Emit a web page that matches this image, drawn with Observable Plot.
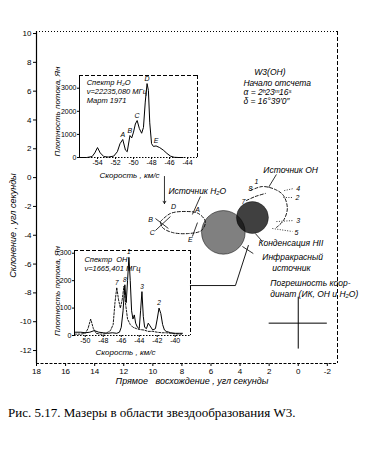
<!DOCTYPE html>
<html><head><meta charset="utf-8">
<script src="https://cdn.jsdelivr.net/npm/d3@7"></script>
<script src="https://cdn.jsdelivr.net/npm/@observablehq/plot@0.6"></script>
<style>
body{margin:0;background:#fff}
#wrap{position:relative;width:376px;height:458px;overflow:hidden;background:#fff}
#wrap > div{position:absolute}
#cap{left:8px;top:405px;font:13px "Liberation Serif",serif;color:#000;white-space:nowrap;line-height:16px}
</style></head><body>
<div id="wrap">
<div id="main" style="left:0;top:0"></div>
<div id="h2o" style="left:40px;top:60px"></div>
<div id="oh" style="left:40px;top:235px"></div>
<div id="cap">Рис. 5.17. Мазеры в области звездообразования W3.</div>
</div>
<script>
// ---------------- data ----------------
const raTicks = [18,16,14,12,10,8,6,4,2,0,-2];
const decTicks = [10,8,6,4,2,0,-2,-4,-6,-8,-10,-12];
const raDomain = [18,-2.7];
const decDomain = [-12.9,10.14];
const xTitle = "Прямое   восхождение , угл секунды";
const yTitle = "Склонение , угл секунды";

// H2O spectrum (upper inset)
const h2oVelDomain = [-56,-42.9];
const h2oFluxDomain = [0,3550];
const h2oVelTicks = [-54,-52,-50,-48,-46,-44];
const h2oFluxTicks = [0,1000,2000,3000];
const h2oVel  = [-56,-55.2,-54.6,-54.3,-54.0,-53.7,-53.3,-52.8,-52.2,-51.8,-51.5,-51.2,-50.9,-50.7,-50.4,-50.2,-50.0,-49.8,-49.6,-49.35,-49.1,-48.9,-48.7,-48.5,-48.35,-48.2,-48.0,-47.8,-47.5,-47.1,-46.7,-46.3,-45.9,-45.5,-45,-44.5];
const h2oFlux = [0,0,40,200,430,200,40,20,60,250,600,780,320,250,950,850,1100,1450,1600,1250,1050,1300,2400,3200,2900,1500,600,480,500,430,320,180,60,10,0,0];
const h2oPeakNames = ["A","B","C","D","E"];
const h2oPeakVel  = [-51.2,-50.4,-49.6,-48.5,-47.5];
const h2oPeakFlux = [780,950,1600,3200,500];
const h2oInfo = "Спектр H₂O\nν=22235,080 МГц\nМарт 1971";

// OH spectrum (lower inset)
const ohVelDomain = [-51.2,-38.3];
const ohFluxDomain = [0,310];
const ohVelTicks = [-50,-48,-46,-44,-42,-40];
const ohFluxTicks = [0,100,200,300];
const ohVelS  = [-51.2,-50.5,-50,-49.5,-49,-48.5,-48,-47.5,-47,-46.5,-46.2,-46,-45.8,-45.6,-45.45,-45.3,-45.15,-45,-44.85,-44.7,-44.55,-44.4,-44.2,-44,-43.85,-43.7,-43.55,-43.4,-43.2,-43,-42.8,-42.5,-42.2,-42,-41.8,-41.6,-41.4,-41.2,-41,-40.5,-40,-39.5,-39.2];
const ohFluxS = [12,12,10,12,18,12,10,8,10,8,12,30,90,185,120,200,285,200,90,60,75,45,30,25,90,160,70,30,25,45,35,20,25,60,100,80,40,20,15,10,8,8,8];
const ohVelD  = [-51.2,-50.5,-50,-49.7,-49.4,-49.1,-48.8,-48.3,-47.8,-47.5,-47.2,-46.9,-46.7,-46.5,-46.3,-46.1,-45.9,-45.7,-45.5,-45.3,-45,-44.7,-44.3,-44,-43.5,-43,-42.5,-42,-41.5,-41,-40.5,-40,-39.5,-39.2];
const ohFluxD = [5,5,8,25,60,25,8,5,6,12,18,40,120,175,130,100,130,180,110,60,40,30,25,22,20,15,15,12,10,10,8,6,5,5];
const ohPeakNames = ["7","8","1","3","2"];
const ohPeakVel  = [-46.5,-45.6,-45.15,-43.7,-41.8];
const ohPeakFlux = [175,185,285,160,100];
const ohInfo = "Спектр  OH\nν=1665,401 МГц";

const fluxTitle = "Плотность потока, Ян";
const velTitle = "Скорость , км/с";

// Sources on the sky (arc seconds from origin)
const irSource  = {x:5.15, y:-3.8,  radius:1.5};
const hiiSource = {x:3.15, y:-2.77, radius:1.1};
const errorCross = {x:0, y:-10.1, ex:2, ey:1.8};

const h2oSpotNames = ["A","D","B","C","E"];
const h2oSpotX = [6.93,8.58,10.16,10.03,7.42];
const h2oSpotY = [-2.21,-2.0,-2.91,-3.81,-4.30];
const ohSpotNames = ["1","4","8","2","7","3","5"];
const ohSpotX = [2.88,0.0,3.29,0.06,3.77,0.0,0.13];
const ohSpotY = [-0.27,-0.76,-0.76,-1.38,-1.66,-2.98,-3.81];

const h2oLoop = [[9.48,-3.05],[8.79,-2.49],[7.76,-2.35],[6.87,-2.49],[6.39,-3.05],[6.66,-3.67],[7.55,-3.88],[8.65,-3.81],[9.34,-3.46],[9.48,-3.05]];
const ohArc  = [[3.29,-0.90],[2.47,-0.62],[1.57,-0.83],[1.02,-1.24],[0.75,-2.14],[1.02,-2.98],[1.50,-3.46]];
const ohArc2 = [[3.57,-1.59],[2.95,-1.31],[2.26,-1.10]];
const solidLeaders = [
  [6.73,-1.31,7.28,-2.56],
  [9.82,-2.84,8.93,-3.53],
  [9.82,-3.67,8.79,-2.70],
  [7.28,-4.09,6.93,-3.12],
  [1.50,0.22,2.05,-0.69],
  [2.47,-4.43,2.95,-3.88],
  [3.09,-5.27,3.84,-4.78]
];
const dottedLeaders = [
  [0.96,-0.90,0.34,-0.76],
  [1.02,-1.38,0.40,-1.38],
  [1.50,-3.05,0.34,-2.98],
  [1.78,-3.53,0.40,-3.74]
];
const h2oArrow = [9.20,0.08,9.20,-1.80];
const ohInsetLink = [[7.42,-7.49],[4.32,-7.49],[3.43,-4.71]];

const noteText = ["W3(OH)","Начало отсчета","α = 2ʰ23ᵐ16ˢ","δ = 16°39′0″","Источник OH","Источник H₂O","Конденсация HII","Инфракрасный","источник","Погрешность коор-","динат (ИК, OH и H₂O)"];
const noteX = [3.02,3.77,3.77,3.77,2.40,8.93,2.74,2.47,1.78,1.92,1.92];
const noteY = [7.29,6.53,5.91,5.28,0.49,-0.96,-4.57,-5.54,-6.31,-7.35,-8.11];

// ---------------- drawing ----------------
const fmt = d => String(d);
const FONT = "Liberation Sans, DejaVu Sans, sans-serif";
const W = 376, H = 395, ML = 36, MR = 39, MT = 31, MB = 32;
const pxPerArcsec = (W - ML - MR) / (raDomain[0] - raDomain[1]);
const pairs = (a, b) => a.map((v, i) => [v, b[i]]);

const main = Plot.plot({
  width: W, height: H, marginLeft: ML, marginRight: MR, marginTop: MT, marginBottom: MB,
  x: {domain: raDomain},
  y: {domain: decDomain},
  style: {fontFamily: FONT, fontSize: "8px", background: "none", color: "#000"},
  marks: [
    Plot.ruleX([raDomain[0]], {y1: decDomain[0], y2: decDomain[1], strokeWidth: 1.2}),
    Plot.ruleY([decDomain[0]], {strokeDasharray: "3,1.5"}),
    Plot.ruleY([decDomain[1]], {strokeDasharray: "1,2"}),
    Plot.ruleX([raDomain[1]], {strokeDasharray: "4,2"}),
    Plot.axisY({ticks: decTicks, tickFormat: fmt, tickSize: 3, tickPadding: 2, label: null}),
    Plot.axisX({ticks: raTicks, tickFormat: fmt, tickSize: 3, tickPadding: 2, label: null}),
    Plot.text([yTitle], {text: d => d, frameAnchor: "left", textAnchor: "middle", dx: -23, dy: 28, rotate: -90, fontStyle: "italic", fontSize: 9}),
    Plot.text([xTitle], {text: d => d, frameAnchor: "bottom", textAnchor: "middle", dx: 5, dy: 20, fontStyle: "italic", fontSize: 9}),
    // sources
    Plot.dot([irSource], {x: "x", y: "y", r: irSource.radius * pxPerArcsec, fill: "url(#vhatch)", stroke: "#000", strokeWidth: 0.5}),
    Plot.dot([hiiSource], {x: "x", y: "y", r: hiiSource.radius * pxPerArcsec, fill: "url(#dense)", stroke: "#000", strokeWidth: 0.4}),
    // maser spots
    Plot.line(h2oLoop, {curve: "catmull-rom", strokeDasharray: "3,2", strokeWidth: 0.9}),
    Plot.line(ohArc, {curve: "catmull-rom", strokeDasharray: "3,2", strokeWidth: 0.9}),
    Plot.line(ohArc2, {curve: "catmull-rom", strokeDasharray: "3,2", strokeWidth: 0.9}),
    Plot.link(solidLeaders, {x1: d => d[0], y1: d => d[1], x2: d => d[2], y2: d => d[3], strokeWidth: 0.8}),
    Plot.link(dottedLeaders, {x1: d => d[0], y1: d => d[1], x2: d => d[2], y2: d => d[3], strokeWidth: 0.8, strokeDasharray: "1,1.5"}),
    Plot.arrow([h2oArrow], {x1: d => d[0], y1: d => d[1], x2: d => d[2], y2: d => d[3], headLength: 5, strokeWidth: 0.8}),
    Plot.line(ohInsetLink, {strokeWidth: 0.9}),
    Plot.text(h2oSpotNames, {text: d => d, x: (d, i) => h2oSpotX[i], y: (d, i) => h2oSpotY[i], fontSize: 7, fontStyle: "italic"}),
    Plot.text(ohSpotNames, {text: d => d, x: (d, i) => ohSpotX[i], y: (d, i) => ohSpotY[i], fontSize: 7, fontStyle: "italic"}),
    // error cross
    Plot.ruleX([errorCross], {x: "x", y1: d => d.y - d.ey, y2: d => d.y + d.ey, strokeWidth: 1}),
    Plot.ruleY([errorCross], {y: "y", x1: d => d.x + d.ex, x2: d => d.x - d.ex, strokeWidth: 1}),
    // notes
    Plot.text(noteText, {text: d => d, x: (d, i) => noteX[i], y: (d, i) => noteY[i], textAnchor: "start", fontStyle: "italic", fontSize: 8.5})
  ]
});
const defs = d3.select(main).insert("defs", ":first-child");
const vh = defs.append("pattern").attr("id", "vhatch").attr("patternUnits", "userSpaceOnUse").attr("width", 2).attr("height", 2);
vh.append("rect").attr("width", 2).attr("height", 2).attr("fill", "#fff");
vh.append("rect").attr("width", 1).attr("height", 2).attr("fill", "#000");
const dn = defs.append("pattern").attr("id", "dense").attr("patternUnits", "userSpaceOnUse").attr("width", 2).attr("height", 2);
dn.append("rect").attr("x", 0).attr("y", 0).attr("width", 2).attr("height", 1).attr("fill", "#000");
dn.append("rect").attr("x", 0).attr("y", 1).attr("width", 1).attr("height", 1).attr("fill", "#000");
document.getElementById("main").appendChild(main);

// upper inset: H2O spectrum
const h2oPlot = Plot.plot({
  width: 170, height: 120, marginLeft: 39, marginRight: 13, marginTop: 15, marginBottom: 23,
  x: {domain: h2oVelDomain}, y: {domain: h2oFluxDomain},
  style: {fontFamily: FONT, fontSize: "7px", background: "none", overflow: "visible"},
  marks: [
    Plot.ruleX([h2oVelDomain[0]], {strokeWidth: 1}),
    Plot.ruleX([h2oVelDomain[1]], {strokeDasharray: "4,2"}),
    Plot.ruleY([h2oFluxDomain[1]], {strokeDasharray: "4,2"}),
    Plot.ruleY([h2oFluxDomain[0]], {strokeDasharray: "1.5,1.5"}),
    Plot.axisY({ticks: h2oFluxTicks, tickFormat: fmt, tickSize: 2, tickPadding: 1, label: null}),
    Plot.axisX({ticks: h2oVelTicks, tickFormat: fmt, tickSize: 2, tickPadding: 1, label: null}),
    Plot.line(pairs(h2oVel, h2oFlux), {strokeWidth: 1}),
    Plot.text(h2oPeakNames, {text: d => d, x: (d, i) => h2oPeakVel[i], y: (d, i) => h2oPeakFlux[i], dy: -5, fontSize: 7, fontStyle: "italic"}),
    Plot.text([h2oInfo], {text: d => d, x: -55.2, y: 3420, textAnchor: "start", lineAnchor: "top", lineHeight: 1.2, fontSize: 7.5, fontStyle: "italic"}),
    Plot.text([fluxTitle], {text: d => d, frameAnchor: "left", textAnchor: "middle", dx: -22, dy: -5, rotate: -90, fontStyle: "italic", fontSize: 8}),
    Plot.text([velTitle], {text: d => d, frameAnchor: "bottom", textAnchor: "middle", dx: -9, dy: 20, fontStyle: "italic", fontSize: 8})
  ]
});
document.getElementById("h2o").appendChild(h2oPlot);

// lower inset: OH spectrum
const ohPlot = Plot.plot({
  width: 160, height: 125, marginLeft: 34, marginRight: 10, marginTop: 15, marginBottom: 25,
  x: {domain: ohVelDomain}, y: {domain: ohFluxDomain},
  style: {fontFamily: FONT, fontSize: "7px", background: "none", overflow: "visible"},
  marks: [
    Plot.ruleX([ohVelDomain[0]], {strokeWidth: 1}),
    Plot.ruleX([ohVelDomain[1]], {strokeDasharray: "4,2"}),
    Plot.ruleY([ohFluxDomain[1]], {strokeDasharray: "4,2"}),
    Plot.ruleY([ohFluxDomain[0]], {strokeDasharray: "1.5,1.5"}),
    Plot.axisY({ticks: ohFluxTicks, tickFormat: fmt, tickSize: 2, tickPadding: 1, label: null}),
    Plot.axisX({ticks: ohVelTicks, tickFormat: fmt, tickSize: 2, tickPadding: 1, label: null}),
    Plot.line(pairs(ohVelD, ohFluxD), {strokeWidth: 0.9, strokeDasharray: "2,1.5"}),
    Plot.line(pairs(ohVelS, ohFluxS), {strokeWidth: 1}),
    Plot.text(ohPeakNames, {text: d => d, x: (d, i) => ohPeakVel[i], y: (d, i) => ohPeakFlux[i], dy: -5, fontSize: 6.5, fontStyle: "italic"}),
    Plot.text([ohInfo], {text: d => d, x: -50.1, y: 290, textAnchor: "start", lineAnchor: "top", lineHeight: 1.2, fontSize: 7.5, fontStyle: "italic"}),
    Plot.text([fluxTitle], {text: d => d, frameAnchor: "left", textAnchor: "middle", dx: -17, dy: -2, rotate: -90, fontStyle: "italic", fontSize: 8}),
    Plot.text([velTitle], {text: d => d, frameAnchor: "bottom", textAnchor: "middle", dx: -7, dy: 19, fontStyle: "italic", fontSize: 8})
  ]
});
document.getElementById("oh").appendChild(ohPlot);
</script>
</body></html>
